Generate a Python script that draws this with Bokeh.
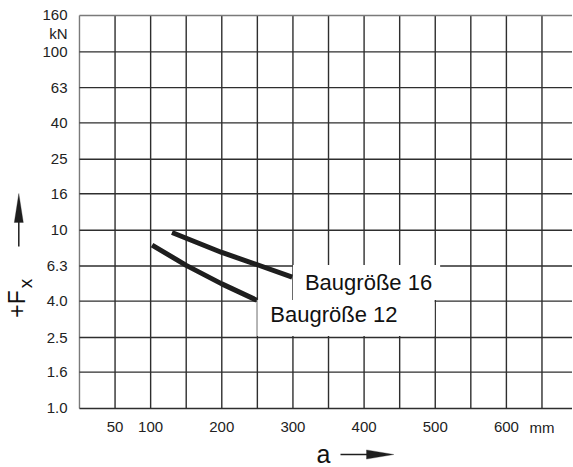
import math
from bokeh.plotting import figure
from bokeh.models import Range1d, Label, Arrow, PolyAnnotation
from bokeh.core.properties import value
from bokeh.embed import file_html
from bokeh.resources import INLINE

# ---- data ----
size16_a = [130, 200, 250, 299]          # a in mm
size16_f = [9.7, 7.5, 6.4, 5.45]         # +Fx in kN
size12_a = [102, 150, 200, 249]
size12_f = [8.25, 6.35, 5.0, 4.05]

x_grid_values = [0, 50, 100, 150, 200, 250, 300, 350, 400, 450, 500, 550, 600, 650]
x_tick_values = [50, 100, 200, 300, 400, 500, 600, 650]
x_tick_labels = ["50", "100", "200", "300", "400", "500", "600", "mm"]
y_tick_values = [1.0, 1.6, 2.5, 4.0, 6.3, 10.0, 16.0, 25.0, 40.0, 63.0, 100.0, 160.0]
y_tick_labels = ["1.0", "1.6", "2.5", "4.0", "6.3", "10", "16", "25", "40", "63", "100", "160"]
y_unit_label = "kN"
y_unit_pos = 126.5

# ---- layout / style ----
W, H = 572, 466
X_START, X_END = -111.0, 692.9        # data range spanning the whole canvas
Y_START, Y_END = 0.4728, 194.16
FONT = "Liberation Sans"
INK = "#1e1e1e"
GRID = "#2e2e2e"
BORDER = "#7a7a7a"

p = figure(width=W, height=H,
           x_range=Range1d(X_START, X_END), y_range=Range1d(Y_START, Y_END),
           y_axis_type="log",
           output_backend="svg", toolbar_location=None,
           min_border=0)
p.xaxis.visible = False
p.yaxis.visible = False
p.grid.visible = False
p.outline_line_color = None
p.background_fill_color = "white"
p.border_fill_color = "white"

x_lo, x_hi = x_grid_values[0], X_END
y_lo, y_hi = y_tick_values[0], y_tick_values[-1]

# grid lines
p.segment(x0=x_grid_values, y0=[y_lo] * len(x_grid_values),
          x1=x_grid_values, y1=[y_hi] * len(x_grid_values),
          line_color=[BORDER if v == x_lo else GRID for v in x_grid_values],
          line_width=1.4)
p.segment(x0=[x_lo] * len(y_tick_values), y0=y_tick_values,
          x1=[x_hi] * len(y_tick_values), y1=y_tick_values,
          line_color=[BORDER if v == y_hi else GRID for v in y_tick_values],
          line_width=1.4)

# tick labels
p.text(x=[x_lo] * len(y_tick_values), y=y_tick_values, text=y_tick_labels,
       x_offset=-12, text_align="right", text_baseline="middle",
       text_font=value(FONT), text_font_size="15px", text_color="#222222")
p.text(x=[x_lo], y=[y_unit_pos], text=[y_unit_label],
       x_offset=-12, text_align="right", text_baseline="middle",
       text_font=value(FONT), text_font_size="15px", text_color="#222222")
p.text(x=x_tick_values, y=[y_lo] * len(x_tick_values), text=x_tick_labels,
       y_offset=19, text_align="center", text_baseline="middle",
       text_font=value(FONT), text_font_size="15px", text_color="#222222")

# curves
p.line(size16_a, size16_f, line_width=5, line_color=INK, line_cap="butt")
p.line(size12_a, size12_f, line_width=5, line_color=INK, line_cap="butt")

# curve labels with white background
p.add_layout(Label(x=300, y=5.09, text="Baugröße 16", text_font=FONT,
                   text_font_size="22px", text_color="#111111",
                   text_align="left", text_baseline="middle",
                   background_fill_color="white",
                   padding=dict(left=12, right=8, top=5, bottom=5)))
p.add_layout(Label(x=250, y=3.218, text="Baugröße 12", text_font=FONT,
                   text_font_size="22px", text_color="#111111",
                   text_align="left", text_baseline="middle",
                   background_fill_color="white",
                   padding=dict(left=13, right=37, top=2, bottom=9)))

# y axis title +F_x (rotated) with arrow
p.add_layout(Label(x=16, y=162.5, x_units="screen", y_units="screen",
                   text="+F", angle=math.pi / 2, text_font=FONT,
                   text_font_size="23px", text_color="#111111",
                   text_align="center", text_baseline="alphabetic"))
p.add_layout(Label(x=25, y=183, x_units="screen", y_units="screen",
                   text="x", angle=math.pi / 2, text_font=FONT,
                   text_font_size="19px", text_color="#111111",
                   text_align="center", text_baseline="alphabetic"))
p.add_layout(Arrow(x_start=18.3, y_start=220, x_end=18.3, y_end=246,
                   start_units="screen", end_units="screen",
                   line_width=1.5, line_color=INK, end=None))
p.add_layout(PolyAnnotation(xs=[13.8, 18.3, 22.8], ys=[244, 273, 244],
                            xs_units="screen", ys_units="screen",
                            fill_color=INK, fill_alpha=1.0,
                            line_color=INK, line_width=1))

# x axis title a with arrow
p.add_layout(Label(x=323, y=13, x_units="screen", y_units="screen",
                   text="a", text_font=FONT, text_font_size="25px",
                   text_color="#111111", text_align="center",
                   text_baseline="alphabetic"))
p.add_layout(Arrow(x_start=340, y_start=12, x_end=368, y_end=12,
                   start_units="screen", end_units="screen",
                   line_width=1.5, line_color=INK, end=None))
p.add_layout(PolyAnnotation(xs=[366, 393.3, 366], ys=[16.6, 12, 7.4],
                            xs_units="screen", ys_units="screen",
                            fill_color=INK, fill_alpha=1.0,
                            line_color=INK, line_width=1))

open("out.html", "w").write(file_html(p, INLINE))
